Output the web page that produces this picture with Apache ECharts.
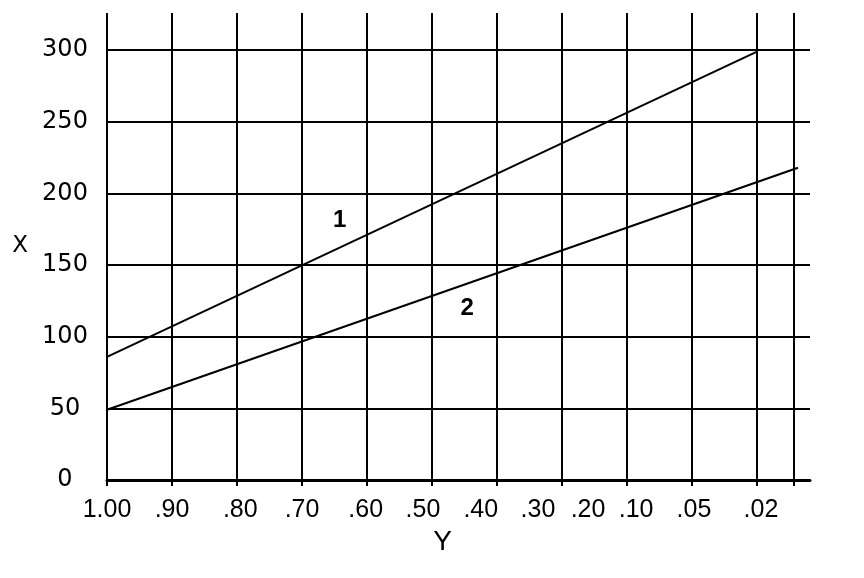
<!DOCTYPE html>
<html>
<head>
<meta charset="utf-8">
<script src="https://cdn.jsdelivr.net/npm/echarts@6/dist/echarts.min.js"></script>
<style>
  html, body { margin: 0; padding: 0; background: #fff; }
  #main { width: 864px; height: 578px; }
</style>
</head>
<body>
<div id="main"></div>
<script>
// x axis runs in grid-cell units: 0 = 1.00, 1 = .90 ... 10 = .02
const xTickLabels = ['1.00', '.90', '.80', '.70', '.60', '.50', '.40', '.30', '.20', '.10', '.05', '.02'];
const xLabelPos = [0, 1.0, 2.05, 3.0, 3.98, 4.86, 5.75, 6.63, 7.4, 8.14, 9.03, 10.06];
const xGridPos = [0, 1, 2, 3, 4, 5, 6, 7, 8, 9, 10, 10.57];
const yTicks = [0, 50, 100, 150, 200, 250, 300];
const yGridVals = [50, 100, 150, 200, 250, 300];

// the two curves (straight lines)
const line1 = [[0, 86], [10, 299]];
const line2 = [[0, 49], [10.63, 218]];
const curveNames = [[3.58, 181, '1'], [5.54, 120, '2']];

const black = '#000';
const chart = echarts.init(document.getElementById('main'));

const option = {
  animation: false,
  backgroundColor: '#fff',
  grid: { left: 107, right: 54, top: 13, bottom: 98 },
  xAxis: {
    type: 'value',
    min: 0,
    max: 10.815,
    name: 'Y',
    nameLocation: 'middle',
    nameGap: 45,
    nameTextStyle: { color: black, fontSize: 28, fontFamily: 'Liberation Sans', padding: [0, 32, 0, 0] },
    axisLine: { show: true, lineStyle: { color: black, width: 3 } },
    axisTick: { show: true, customValues: xGridPos, length: 6, lineStyle: { color: black, width: 2 } },
    axisLabel: {
      customValues: xLabelPos,
      margin: 18,
      color: black,
      fontSize: 25,
      fontFamily: 'Liberation Sans',
      formatter: function (v) {
        for (let i = 0; i < xLabelPos.length; i++) {
          if (Math.abs(xLabelPos[i] - v) < 1e-6) return xTickLabels[i];
        }
        return '';
      }
    },
    splitLine: { show: false }
  },
  yAxis: {
    type: 'value',
    min: 0,
    max: 326,
    name: 'X',
    nameLocation: 'middle',
    nameRotate: 0,
    nameGap: 79,
    nameTextStyle: { color: black, fontSize: 23, fontFamily: 'DejaVu Sans' },
    axisLine: { show: false },
    axisTick: { show: false },
    axisLabel: {
      customValues: yTicks,
      align: 'center',
      margin: 42,
      color: black,
      fontSize: 24,
      fontFamily: 'DejaVu Sans'
    },
    splitLine: { show: false }
  },
  series: [
    {
      type: 'line',
      data: line1,
      showSymbol: false,
      silent: true,
      lineStyle: { color: black, width: 2 },
      markLine: {
        silent: true,
        symbol: 'none',
        label: { show: false },
        lineStyle: { color: black, width: 2, type: 'solid' },
        data: xGridPos.map(v => ({ xAxis: v })).concat(yGridVals.map(v => ({ yAxis: v })))
      }
    },
    {
      type: 'line',
      data: line2,
      showSymbol: false,
      silent: true,
      lineStyle: { color: black, width: 2 }
    },
    {
      type: 'scatter',
      data: curveNames,
      symbolSize: 1,
      silent: true,
      itemStyle: { color: 'rgba(0,0,0,0)', opacity: 1 },
      label: {
        show: true,
        position: 'inside',
        color: black,
        fontSize: 24,
        fontWeight: 'bold',
        fontFamily: 'Liberation Sans',
        formatter: p => p.value[2]
      }
    }
  ]
};

chart.setOption(option);
</script>
</body>
</html>
